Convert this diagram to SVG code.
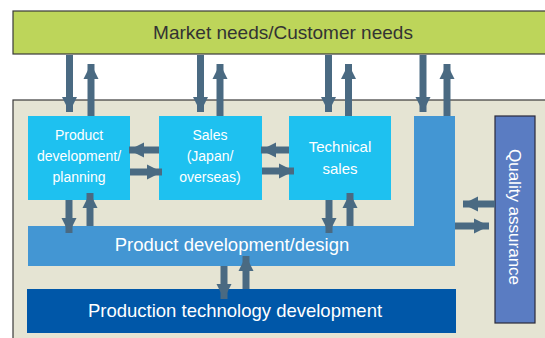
<svg xmlns="http://www.w3.org/2000/svg" width="545" height="338" viewBox="0 0 545 338">
<defs>
<style>
.t{font-family:"Liberation Sans",Arial,sans-serif;fill:#fff;text-anchor:middle}
</style>
<marker id="h" viewBox="0 0 10 10" refX="10" refY="5" markerWidth="2.2" markerHeight="2.2" orient="auto" markerUnits="strokeWidth">
<path d="M0,0L10,5L0,10z" fill="#4a6a82"/>
</marker>
</defs>
<rect width="545" height="338" fill="#fff"/>
<g id="market">
<rect x="13" y="11" width="540" height="43" fill="#bdd55a" stroke="#3a3a3a" stroke-width="1.2"/>
<text x="283" y="39" font-family="Liberation Sans,Arial,sans-serif" font-size="19" fill="#333" text-anchor="middle">Market needs/Customer needs</text>
</g>
<g id="panel">
<rect x="13" y="100" width="540" height="250" fill="#e5e4d3" stroke="#3a3a3a" stroke-width="1.2"/>
</g>
<g id="design">
<path d="M414,116H455V266H28V226H414Z" fill="#4396d3"/>
<text class="t" x="232" y="251" font-size="18.5">Product development/design</text>
</g>
<g id="planning">
<rect x="28" y="116" width="102" height="84" fill="#1ec1f0"/>
<text class="t" font-size="14"><tspan x="79" y="140">Product</tspan><tspan x="79" y="161">development/</tspan><tspan x="79" y="182">planning</tspan></text>
</g>
<g id="sales">
<rect x="159" y="116" width="103" height="84" fill="#1ec1f0"/>
<text class="t" font-size="14"><tspan x="210" y="140">Sales</tspan><tspan x="210" y="161">(Japan/</tspan><tspan x="210" y="182">overseas)</tspan></text>
</g>
<g id="techsales">
<rect x="289" y="116" width="102" height="84" fill="#1ec1f0"/>
<text class="t" font-size="15"><tspan x="340" y="152">Technical</tspan><tspan x="340" y="174">sales</tspan></text>
</g>
<g id="production">
<rect x="27" y="289" width="429" height="44" fill="#0057a8"/>
<text class="t" x="235" y="317" font-size="18.5">Production technology development</text>
</g>
<g id="quality">
<rect x="495" y="116" width="40" height="207" fill="#5a7cc2" stroke="#2a2a3a" stroke-width="1.2"/>
<text class="t" font-size="17" transform="translate(509,217) rotate(90)">Quality assurance</text>
</g>
<g id="connectors" stroke="#4a6a82" stroke-width="7" fill="none" marker-end="url(#h)">
<path d="M69.5,55V112"/>
<path d="M91,116V64"/>
<path d="M200.5,55V112"/>
<path d="M220,116V64"/>
<path d="M328.5,55V112"/>
<path d="M348.5,116V64"/>
<path d="M423,55V112"/>
<path d="M447,116V64"/>
<path d="M159,150H129"/>
<path d="M130,172H162"/>
<path d="M289,150H261"/>
<path d="M262,171H294"/>
<path d="M69,200V233"/>
<path d="M90,226V193"/>
<path d="M329,200V233"/>
<path d="M350,226V193"/>
<path d="M224,266V299"/>
<path d="M246,289V256"/>
<path d="M495,204H463"/>
<path d="M455,226H489"/>
</g>
</svg>
